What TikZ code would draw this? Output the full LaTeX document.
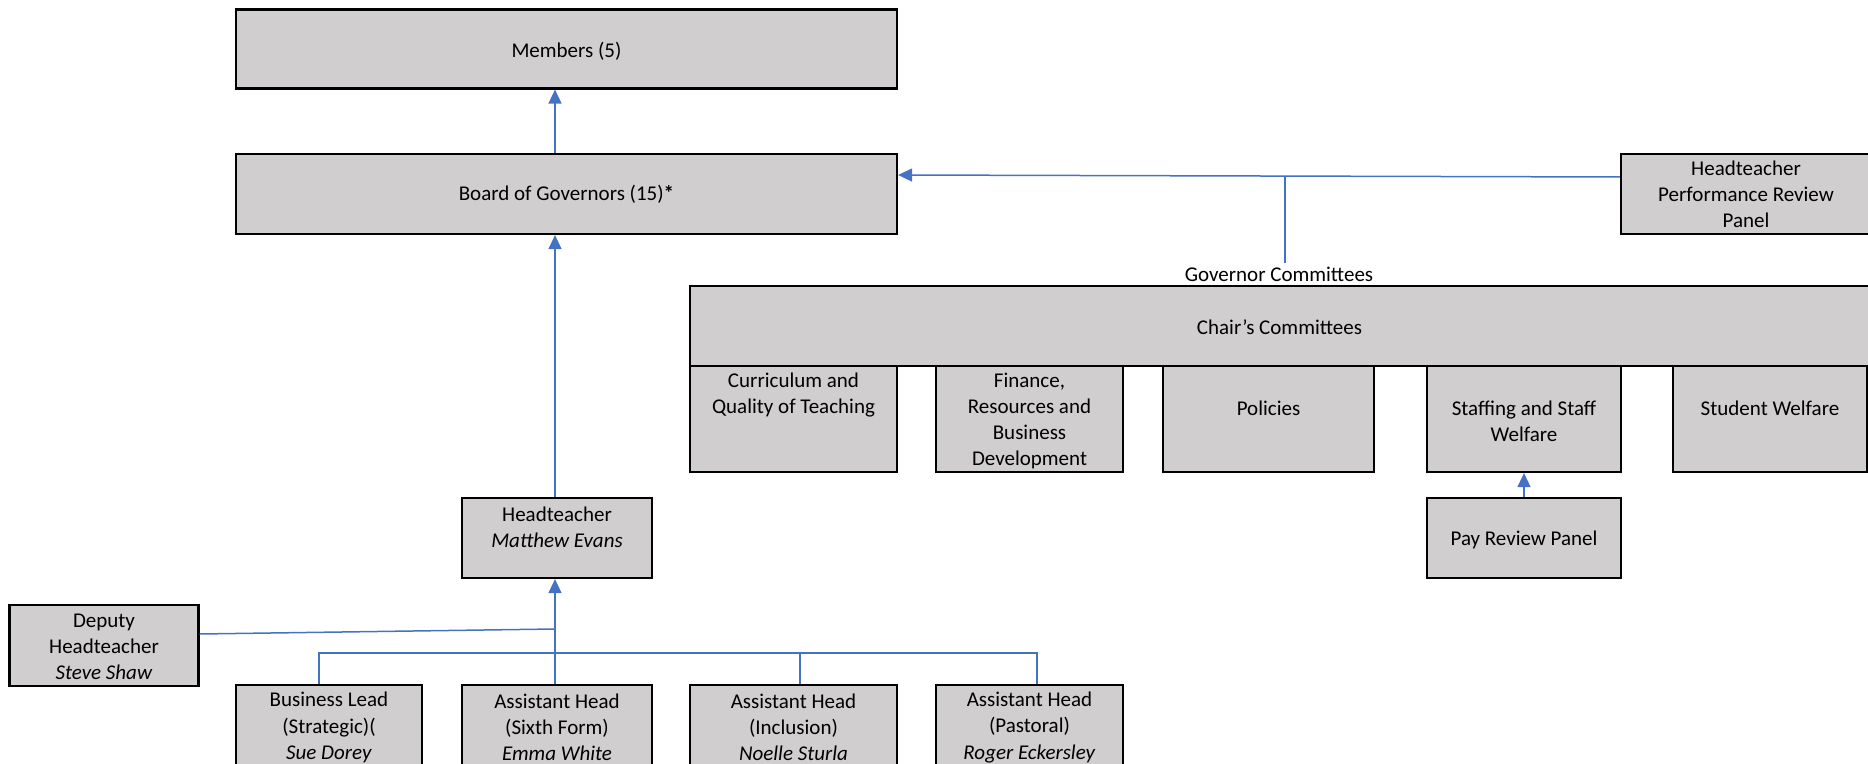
\documentclass[tikz,border=0pt]{standalone}
\usepackage{fontspec}
\setmainfont{Carlito}
\usetikzlibrary{arrows.meta}
\definecolor{boxgrey}{HTML}{D0CECE}
\definecolor{lnblue}{HTML}{4472C4}
\begin{document}
\begin{tikzpicture}[x=0.5pt,y=-0.5pt,
  box/.style={draw=black, fill=boxgrey, line width=1.1pt, inner sep=0pt, align=center,
    font=\fontsize{10.5}{13.1}\selectfont},
  sz/.style 2 args={minimum width=#1*0.5pt, minimum height=#2*0.5pt},
  txt/.style={align=center, inner sep=0pt, font=\fontsize{10.5}{13.1}\selectfont},
  conn/.style={draw=lnblue, line width=0.75pt},
  arr/.style={conn, -{Triangle[length=7pt,width=6.5pt]}}]
\useasboundingbox (0,0) rectangle (1868,764);
\clip (0,0) rectangle (1868,764);

% top
\node[box, sz={661}{79}] (members) at (566.5,49) {};
\node[txt] (memberst) at (566.5,51.5) {Members (5)};
\node[box, sz={661}{80}] (board) at (566.5,194) {Board of Governors (15)\textbf{*}};
\node[box, sz={250}{80}] (hprp) at (1746,194) {Headteacher\\Performance Review\\Panel};

% committees
\node[txt, inner sep=2pt] (gcl) at (1279,274.5) {Governor Committees};
\node[box, sz={1179}{80}] (chair) at (1279.5,326) {};
\node[txt] (chairt) at (1279.5,327.5) {Chair’s Committees};
\node[box, sz={207}{106}] (cur) at (793.5,419) {};
\node[box, sz={187}{106}] (fin) at (1029.5,419) {};
\node[box, sz={211}{106}] (pol) at (1268.5,419) {};
\node[box, sz={194}{106}] (staff) at (1524,419) {};
\node[box, sz={194}{106}] (stu) at (1770,419) {};
\node[txt] (curt) at (793.5,395) {Curriculum and\\Quality of Teaching};
\node[txt] (fint) at (1029.5,421) {Finance,\\Resources and\\Business\\Development};
\node[txt] (polt) at (1268.5,408) {Policies};
\node[txt] (stafft) at (1524,421) {Staffing and Staff\\Welfare};
\node[txt] (stut) at (1770,408) {Student Welfare};
\node[box, sz={194}{80}] (pay) at (1524,538) {};
\node[txt] (payt) at (1524,540) {Pay Review Panel};

% staff
\node[box, sz={190}{80}] (head) at (557,538) {};
\node[txt] (headt) at (557,527) {Headteacher\\\textit{Matthew Evans}};
\node[box, sz={189}{81}] (dep) at (104,645.5) {};
\node[txt] (dept) at (104,647) {Deputy\\Headteacher\\\textit{Steve Shaw}};
\node[box, sz={186}{84}] (bl) at (329,727) {};
\node[box, sz={190}{84}] (ahsix) at (557,727) {};
\node[box, sz={207}{84}] (ahinc) at (793.5,727) {};
\node[box, sz={187}{84}] (ahpas) at (1029.5,727) {};
\node[txt] (blt) at (329,727.5) {Business Lead\\(Strategic)(\\\textit{Sue Dorey}};
\node[txt] (ahsixt) at (557,727.5) {Assistant Head\\(Sixth Form)\\\textit{Emma White}};
\node[txt] (ahinct) at (793.5,727.5) {Assistant Head\\(Inclusion)\\\textit{Noelle Sturla}};
\node[txt] (ahpast) at (1029.5,727.5) {Assistant Head\\(Pastoral)\\\textit{Roger Eckersley}};

% connectors
\coordinate (spine) at (555,0);
\coordinate (gcj) at (1285,176);
\coordinate (bus) at (0,653);
\coordinate (depj) at (555,629);
\draw[arr] (board.north -| spine) -- (members.south -| spine);
\draw[arr] (head.north -| spine) -- (board.south -| spine);
\draw[arr] (ahsix.north -| spine) -- (head.south -| spine);
\draw[arr] ([yshift=8.5pt]hprp.west) -- ([yshift=9.5pt]board.east);
\draw[conn] (gcj) -- (gcl.north -| gcj);
\draw[arr] (pay.north) -- (staff.south);
\draw[conn] ([yshift=5.75pt]dep.east) -- (depj);
\draw[conn] ([xshift=-5pt]bl.north) |- ([xshift=3.75pt]ahpas.north |- bus) -- ([xshift=3.75pt]ahpas.north);
\draw[conn] ([xshift=3.25pt]ahinc.north) -- ([xshift=3.25pt]ahinc.north |- bus);
\end{tikzpicture}
\end{document}
